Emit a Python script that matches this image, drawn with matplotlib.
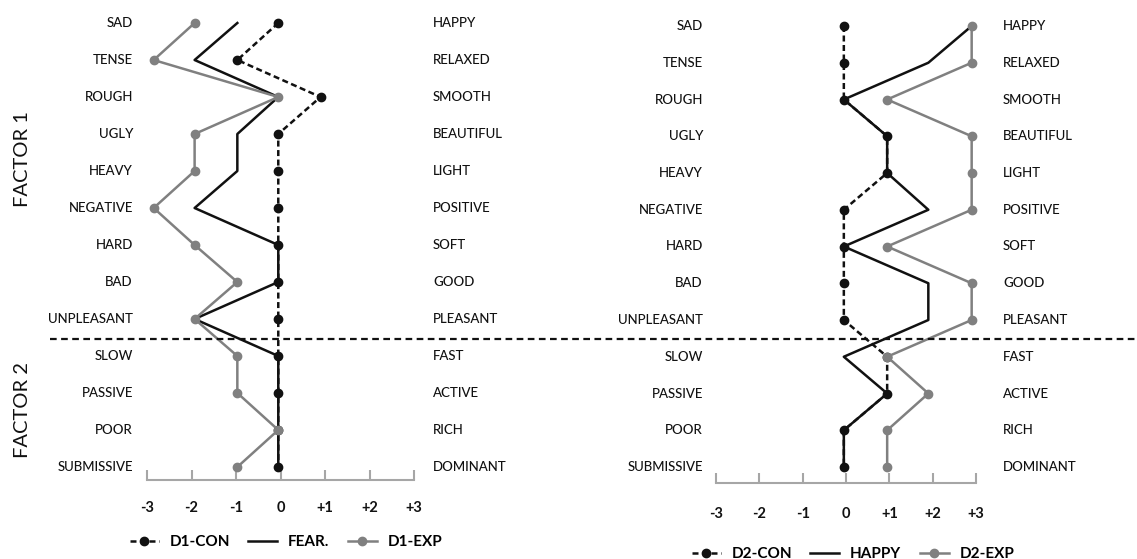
import matplotlib
matplotlib.use('Agg')
import matplotlib.pyplot as plt
from matplotlib.lines import Line2D

plt.rcParams['font.family'] = ['Lato', 'DejaVu Sans']

# ---------------- data ----------------
left_terms = ["SAD", "TENSE", "ROUGH", "UGLY", "HEAVY", "NEGATIVE", "HARD", "BAD",
              "UNPLEASANT", "SLOW", "PASSIVE", "POOR", "SUBMISSIVE"]
right_terms = ["HAPPY", "RELAXED", "SMOOTH", "BEAUTIFUL", "LIGHT", "POSITIVE", "SOFT",
               "GOOD", "PLEASANT", "FAST", "ACTIVE", "RICH", "DOMINANT"]

d1_con = [-0.05, -0.97, 0.9, -0.05, -0.05, -0.05, -0.05, -0.05, -0.05, -0.05, -0.05, -0.05, -0.05]
fear = [-0.97, -1.93, -0.05, -0.97, -0.97, -1.93, -0.05, -0.05, -1.93, -0.05, -0.05, -0.05, -0.05]
d1_exp = [-1.93, -2.85, -0.05, -1.93, -1.93, -2.85, -1.93, -0.97, -1.93, -0.97, -0.97, -0.05, -0.97]

d2_con = [-0.05, -0.05, -0.05, 0.95, 0.95, -0.05, -0.05, -0.05, -0.05, 0.95, 0.95, -0.05, -0.05]
happy = [2.9, 1.9, -0.05, 0.95, 0.95, 1.9, -0.05, 1.9, 1.9, -0.05, 0.95, -0.05, -0.05]
d2_exp = [2.9, 2.9, 0.95, 2.9, 2.9, 2.9, 0.95, 2.9, 2.9, 0.95, 1.9, 0.95, 0.95]

tick_vals = [-3, -2, -1, 0, 1, 2, 3]
tick_labels = ["-3", "-2", "-1", "0", "+1", "+2", "+3"]

factor_labels = ["FACTOR 1", "FACTOR 2"]
legend_left = ["D1-CON", "FEAR.", "D1-EXP"]
legend_right = ["D2-CON", "HAPPY", "D2-EXP"]

# ---------------- figure ----------------
W, H = 1137, 559
fig = plt.figure(figsize=(W / 100, H / 100), dpi=100)
fig.patch.set_facecolor('white')

BLACK = '#111111'
GRAY = '#808080'
AXCOL = '#a6a6a6'
TXT = '#111111'


def add_ax(x0, x1, ytop, ybot):
    return fig.add_axes([x0 / W, 1 - ybot / H, (x1 - x0) / W, (ybot - ytop) / H])


def panel(ax, con, emo, exp, ylim, lab_left_x, lab_right_x, tick_pad):
    rows = list(range(len(left_terms)))
    ax.set_xlim(-3, 3)
    ax.set_ylim(*ylim)
    for s in ['top', 'left', 'right']:
        ax.spines[s].set_visible(False)
    ax.spines['bottom'].set_color(AXCOL)
    ax.spines['bottom'].set_linewidth(1.5)
    ax.set_yticks([])
    ax.set_xticks(tick_vals)
    ax.set_xticklabels(tick_labels, fontsize=10.5, fontweight='bold', color=TXT)
    ax.tick_params(axis='x', direction='in', length=7, width=1.5, color=AXCOL, pad=tick_pad)
    ax.patch.set_alpha(0)

    ax.plot(con, rows, color=BLACK, lw=1.8, ls=(0, (2.4, 1.4)), marker='o', ms=6,
            clip_on=False, zorder=3)
    ax.plot(emo, rows, color=BLACK, lw=1.8, clip_on=False, zorder=4)
    ax.plot(exp, rows, color=GRAY, lw=1.8, marker='o', ms=6, clip_on=False, zorder=5)

    tr = ax.get_yaxis_transform()
    for r, (a, b) in enumerate(zip(left_terms, right_terms)):
        ax.text(lab_left_x, r, a, transform=tr, ha='right', va='center', fontsize=9.5,
                color=TXT, fontweight='medium')
        ax.text(lab_right_x, r, b, transform=tr, ha='left', va='center', fontsize=9.5,
                color=TXT, fontweight='medium')


axL = add_ax(147, 414, 5, 480)
panel(axL, d1_con, fear, d1_exp, (12 + 13 / 37, -18 / 37),
      (133 - 147) / 267, (433 - 147) / 267, 15)

axR = add_ax(716, 976, 5, 483)
panel(axR, d2_con, happy, d2_exp, (12 + 16 / 36.75, -21 / 36.75),
      (703 - 716) / 260, (1003 - 716) / 260, 17)

# separator between factors
fig.add_artist(Line2D([50 / W, 1.0], [1 - 339 / H, 1 - 339 / H], color=BLACK,
                      lw=1.6, ls=(0, (3, 2))))

# factor labels
fig.text(23 / W, 1 - 159 / H, factor_labels[0], rotation=90, ha='center', va='center',
         fontsize=14.5, color=TXT)
fig.text(23 / W, 1 - 410 / H, factor_labels[1], rotation=90, ha='center', va='center',
         fontsize=14.5, color=TXT)


def make_handles():
    return [Line2D([], [], color=BLACK, lw=1.8, ls=(0, (2.4, 1.4)), marker='o', ms=6),
            Line2D([], [], color=BLACK, lw=1.8),
            Line2D([], [], color=GRAY, lw=1.8, marker='o', ms=6)]


for labels, cx, cy in [(legend_left, 286, 542), (legend_right, 853, 554)]:
    fig.legend(make_handles(), labels, loc='center', bbox_to_anchor=(cx / W, 1 - cy / H),
               ncol=3, frameon=False, prop={'weight': 'bold', 'size': 11},
               handlelength=1.9, handletextpad=0.7, columnspacing=1.2, numpoints=1,
               borderpad=0)

fig.savefig('out.png', dpi=100, facecolor='white')
